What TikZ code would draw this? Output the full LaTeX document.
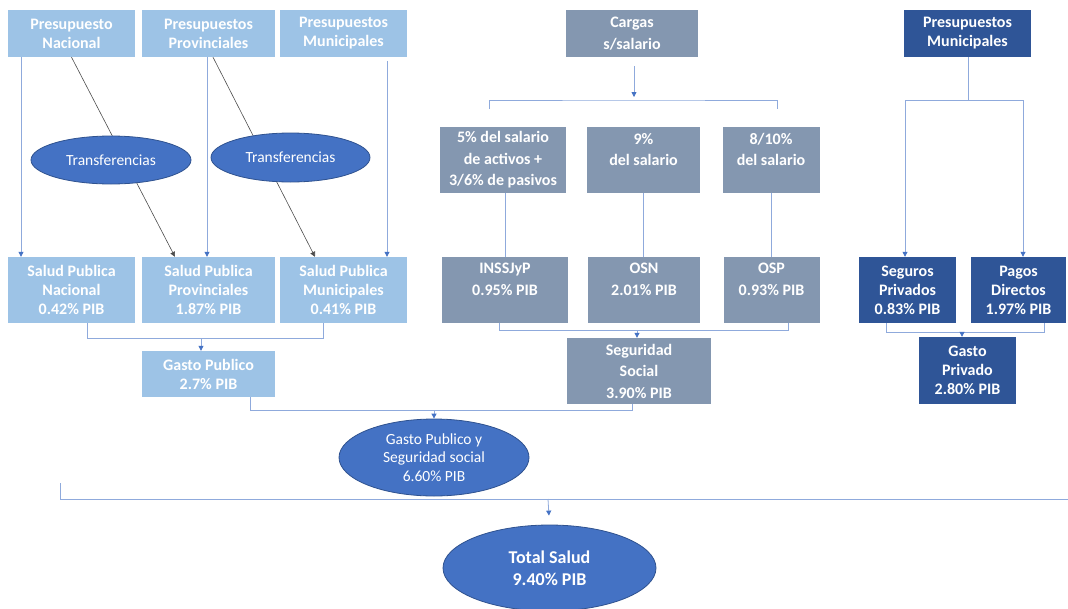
\documentclass[tikz,border=0pt]{standalone}
\usepackage{fontspec}
\setmainfont{Carlito}
\usetikzlibrary{shapes.geometric,arrows.meta}

\definecolor{boxlight}{HTML}{9DC3E6}
\definecolor{boxgray}{HTML}{8497B0}
\definecolor{boxdark}{HTML}{2F5597}
\definecolor{ovalfill}{HTML}{4472C4}
\definecolor{ovalline}{HTML}{2F528F}
\definecolor{connline}{HTML}{8FAADC}

\begin{document}
\begin{tikzpicture}[x=1pt,y=-1pt,>={Triangle[width=5pt,length=5pt]},
  every node/.style={inner sep=0pt,align=center,text=white},
  sz/.style 2 args={minimum width=#1pt,minimum height=#2pt},
  lbox/.style={rectangle,fill=boxlight,font=\bfseries\fontsize{16}{19}\selectfont},
  gbox/.style={rectangle,fill=boxgray,font=\bfseries\fontsize{16}{21.5}\selectfont},
  dbox/.style={rectangle,fill=boxdark,font=\bfseries\fontsize{16}{19}\selectfont},
  oval/.style={ellipse,fill=ovalfill,draw=ovalline,line width=0.8pt,font=\fontsize{15.5}{18.5}\selectfont},
  conn/.style={draw=connline,line width=0.8pt,-,arrows={->[fill=ovalfill,color=ovalfill]}},
  line/.style={draw=connline,line width=0.8pt},
  trans/.style={draw=black!70,line width=0.6pt,->}]
  \useasboundingbox (0,0) rectangle (1068,608);

  % Presupuestos publicos
  \node[lbox,sz={127}{47}] (pn) at (71.5,33.5) {Presupuesto\\Nacional};
  \node[lbox,sz={133}{47}] (pp) at (208.5,33.5) {Presupuestos\\Provinciales};
  \node[lbox,sz={127}{47}] (pm) at (343.5,33.5) {Presupuestos\\Municipales};
  \node[lbox,sz={127}{66}] (sn) at (71.5,290) {Salud Publica\\Nacional\\0.42\% PIB};
  \node[lbox,sz={133}{66}] (sp) at (208.5,290) {Salud Publica\\Provinciales\\1.87\% PIB};
  \node[lbox,sz={127}{66}] (sm) at (343.5,290) {Salud Publica\\Municipales\\0.41\% PIB};
  \node[lbox,sz={133}{46}] (gp) at (208.5,374) {Gasto Publico\\2.7\% PIB};

  % Transferencias
  \draw[trans] (pn.south) -- ([xshift=-33.5pt]sp.north);
  \draw[trans] ([xshift=4.5pt]pp.south) -- ([xshift=-28.5pt]sm.north);
  \node[oval,sz={160}{48}] (t1) at (111,160) {Transferencias};
  \node[oval,sz={159}{49}] (t2) at (290.5,157.5) {Transferencias};

  \draw[conn] ([xshift=-50.5pt]pn.south) -- ([xshift=-50.5pt]sn.north);
  \draw[conn] ([xshift=-1.5pt]pp.south) -- ([xshift=-1.5pt]sp.north);
  \draw[conn,shorten <=4pt] ([xshift=43.5pt]pm.south) -- ([xshift=43.5pt]sm.north);
  \draw[line] ([xshift=15.5pt]sn.south) -- ++(0,15) -| ([xshift=-20.5pt]sm.south);
  \coordinate (jgp) at (201,338);
  \draw[conn] (jgp) -- (jgp |- gp.north);

  % Seguridad social
  \node[gbox,sz={132}{47}] (cs) at (632,33.5) {Cargas\\s/salario};
  \node[gbox,sz={126}{66}] (c1) at (503,160) {5\% del salario\\de activos +\\3/6\% de pasivos};
  \node[gbox,sz={113}{66}] (c2) at (643.5,160) {9\%\\del salario\\\mbox{}};
  \node[gbox,sz={97}{66}] (c3) at (771,160) {8/10\%\\del salario\\\mbox{}};
  \node[gbox,sz={126}{66}] (ins) at (505,290) {INSSJyP\\0.95\% PIB\\\mbox{}};
  \node[gbox,sz={112}{66}] (osn) at (644,290) {OSN\\2.01\% PIB\\\mbox{}};
  \node[gbox,sz={96}{66}] (osp) at (771.5,290) {OSP\\0.93\% PIB\\\mbox{}};
  \node[gbox,sz={144}{66}] (ss) at (639,371) {Seguridad\\Social\\3.90\% PIB};

  \coordinate (cl) at (489,109);
  \coordinate (cm) at (634,100);
  \coordinate (cr) at (777,109);
  \draw[conn,shorten <=9pt,shorten >=3pt] (cs.south -| cm) -- (cm);
  \draw[line] (cl) |- (cm) -| (cr);
  \draw[line] (c1.south -| ins.north) -- (ins.north);
  \draw[line] (c2.south) -- (c2.south |- osn.north);
  \draw[line] (c3.south) -- (c3.south |- osp.north);
  \draw[line] ([xshift=-6pt]ins.south) -- ++(0,7) -| ([xshift=16.5pt]osp.south);
  \coordinate (jss) at (637,330);
  \draw[conn] (jss) -- (jss |- ss.north);

  % Gasto privado
  \node[dbox,sz={127}{47}] (dm) at (967.5,33.5) {Presupuestos\\Municipales};
  \node[dbox,sz={97}{66}] (seg) at (907.5,290) {Seguros\\Privados\\0.83\% PIB};
  \node[dbox,sz={95}{66}] (pag) at (1018.5,290) {Pagos\\Directos\\1.97\% PIB};
  \node[dbox,sz={97}{67}] (gpr) at (967.5,370.5) {Gasto\\Privado\\2.80\% PIB};

  \coordinate (dj) at (968,100);
  \draw[line] (dm.south -| dj) -- (dj);
  \draw[conn] (dj) -| ([xshift=-2.5pt]seg.north);
  \draw[conn] (dj) -| ([xshift=4.5pt]pag.north);
  \draw[line] ([xshift=-21.5pt]seg.south) -- ++(0,9) -| ([xshift=25.5pt]pag.south);
  \coordinate (jgr) at (962,332);
  \draw[conn] (jgr) -- (jgr |- gpr.north);

  % Totales
  \node[oval,sz={190}{77}] (gpss) at (434,457.5) {Gasto Publico y\\Seguridad social\\6.60\% PIB};
  \draw[line] ([xshift=41.5pt]gp.south) -- ++(0,13) -| ([xshift=-7pt]ss.south);
  \coordinate (jps) at (434,410);
  \draw[conn] (jps) -- (gpss.north);

  \node[oval,sz={213}{86},font=\bfseries\fontsize{18}{22}\selectfont] (tot) at (549.5,568) {Total Salud\\9.40\% PIB};
  \coordinate (bl) at (60,483);
  \coordinate (br) at (1068,499);
  \coordinate (jt) at (548,499);
  \draw[line] (bl) |- (br);
  \draw[conn,shorten >=9pt] (jt) -- (tot.north);
\end{tikzpicture}
\end{document}
